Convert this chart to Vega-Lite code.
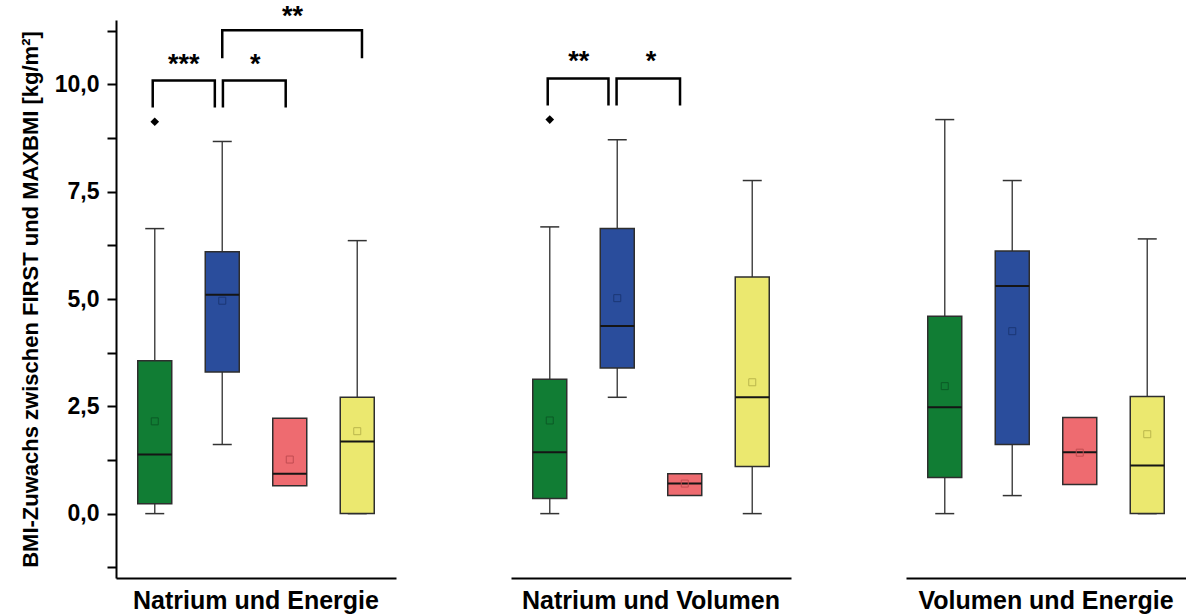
{
  "$schema": "https://vega.github.io/schema/vega-lite/v6.json",
  "background": "white",
  "padding": {"left": 19, "top": 2, "right": 0, "bottom": 0},
  "config": {
    "font": "Liberation Sans",
    "view": {"stroke": null},
    "axis": {"grid": false}
  },
  "data": {
    "values": [
      {"kind": "box", "panel": "Natrium und Energie", "group": "1", "pos": 1, "min": 0, "q1": 0.23, "median": 1.38, "q3": 3.56, "max": 6.64, "mean": 2.15},
      {"kind": "box", "panel": "Natrium und Energie", "group": "2", "pos": 2, "min": 1.61, "q1": 3.30, "median": 5.10, "q3": 6.10, "max": 8.67, "mean": 4.96},
      {"kind": "box", "panel": "Natrium und Energie", "group": "3", "pos": 3, "min": null, "q1": 0.65, "median": 0.93, "q3": 2.22, "max": null, "mean": 1.26},
      {"kind": "box", "panel": "Natrium und Energie", "group": "4", "pos": 4, "min": 0, "q1": 0, "median": 1.68, "q3": 2.71, "max": 6.36, "mean": 1.92},
      {"kind": "box", "panel": "Natrium und Volumen", "group": "1", "pos": 1, "min": 0, "q1": 0.35, "median": 1.43, "q3": 3.13, "max": 6.68, "mean": 2.17},
      {"kind": "box", "panel": "Natrium und Volumen", "group": "2", "pos": 2, "min": 2.71, "q1": 3.39, "median": 4.37, "q3": 6.64, "max": 8.71, "mean": 5.02},
      {"kind": "box", "panel": "Natrium und Volumen", "group": "3", "pos": 3, "min": null, "q1": 0.42, "median": 0.70, "q3": 0.93, "max": null, "mean": 0.70},
      {"kind": "box", "panel": "Natrium und Volumen", "group": "4", "pos": 4, "min": 0, "q1": 1.10, "median": 2.71, "q3": 5.51, "max": 7.76, "mean": 3.06},
      {"kind": "box", "panel": "Volumen und Energie", "group": "1", "pos": 1, "min": 0, "q1": 0.84, "median": 2.48, "q3": 4.60, "max": 9.18, "mean": 2.97},
      {"kind": "box", "panel": "Volumen und Energie", "group": "2", "pos": 2, "min": 0.42, "q1": 1.61, "median": 5.30, "q3": 6.12, "max": 7.76, "mean": 4.25},
      {"kind": "box", "panel": "Volumen und Energie", "group": "3", "pos": 3, "min": null, "q1": 0.68, "median": 1.43, "q3": 2.24, "max": null, "mean": 1.42},
      {"kind": "box", "panel": "Volumen und Energie", "group": "4", "pos": 4, "min": 0, "q1": 0, "median": 1.12, "q3": 2.73, "max": 6.40, "mean": 1.85},
      {"kind": "outlier", "panel": "Natrium und Energie", "pos": 1, "value": 9.13},
      {"kind": "outlier", "panel": "Natrium und Volumen", "pos": 1, "value": 9.18},
      {"kind": "bracket", "panel": "Natrium und Energie", "id": "a", "ord": 1, "bx": 0.97, "by": 9.46},
      {"kind": "bracket", "panel": "Natrium und Energie", "id": "a", "ord": 2, "bx": 0.97, "by": 10.09},
      {"kind": "bracket", "panel": "Natrium und Energie", "id": "a", "ord": 3, "bx": 1.89, "by": 10.09},
      {"kind": "bracket", "panel": "Natrium und Energie", "id": "a", "ord": 4, "bx": 1.89, "by": 9.46},
      {"kind": "bracket", "panel": "Natrium und Energie", "id": "b", "ord": 1, "bx": 2.01, "by": 9.46},
      {"kind": "bracket", "panel": "Natrium und Energie", "id": "b", "ord": 2, "bx": 2.01, "by": 10.09},
      {"kind": "bracket", "panel": "Natrium und Energie", "id": "b", "ord": 3, "bx": 2.94, "by": 10.09},
      {"kind": "bracket", "panel": "Natrium und Energie", "id": "b", "ord": 4, "bx": 2.94, "by": 9.46},
      {"kind": "bracket", "panel": "Natrium und Energie", "id": "c", "ord": 1, "bx": 2.0, "by": 10.61},
      {"kind": "bracket", "panel": "Natrium und Energie", "id": "c", "ord": 2, "bx": 2.0, "by": 11.26},
      {"kind": "bracket", "panel": "Natrium und Energie", "id": "c", "ord": 3, "bx": 4.07, "by": 11.26},
      {"kind": "bracket", "panel": "Natrium und Energie", "id": "c", "ord": 4, "bx": 4.07, "by": 10.61},
      {"kind": "bracket", "panel": "Natrium und Volumen", "id": "d", "ord": 1, "bx": 0.97, "by": 9.51},
      {"kind": "bracket", "panel": "Natrium und Volumen", "id": "d", "ord": 2, "bx": 0.97, "by": 10.14},
      {"kind": "bracket", "panel": "Natrium und Volumen", "id": "d", "ord": 3, "bx": 1.87, "by": 10.14},
      {"kind": "bracket", "panel": "Natrium und Volumen", "id": "d", "ord": 4, "bx": 1.87, "by": 9.51},
      {"kind": "bracket", "panel": "Natrium und Volumen", "id": "e", "ord": 1, "bx": 1.99, "by": 9.51},
      {"kind": "bracket", "panel": "Natrium und Volumen", "id": "e", "ord": 2, "bx": 1.99, "by": 10.14},
      {"kind": "bracket", "panel": "Natrium und Volumen", "id": "e", "ord": 3, "bx": 2.93, "by": 10.14},
      {"kind": "bracket", "panel": "Natrium und Volumen", "id": "e", "ord": 4, "bx": 2.93, "by": 9.51},
      {"kind": "star", "panel": "Natrium und Energie", "sx": 1.43, "sy": 10.58, "label": "***"},
      {"kind": "star", "panel": "Natrium und Energie", "sx": 2.49, "sy": 10.6, "label": "*"},
      {"kind": "star", "panel": "Natrium und Energie", "sx": 3.04, "sy": 11.72, "label": "**"},
      {"kind": "star", "panel": "Natrium und Volumen", "sx": 1.43, "sy": 10.65, "label": "**"},
      {"kind": "star", "panel": "Natrium und Volumen", "sx": 2.5, "sy": 10.65, "label": "*"}
    ]
  },
  "facet": {
    "column": {
      "field": "panel",
      "type": "nominal",
      "sort": ["Natrium und Energie", "Natrium und Volumen", "Volumen und Energie"],
      "header": {
        "title": null,
        "labelOrient": "bottom",
        "labelFontSize": 25,
        "labelFontWeight": "bold",
        "labelColor": "black",
        "labelFont": "Liberation Sans",
        "labelPadding": 11
      }
    }
  },
  "spacing": {"column": 115},
  "resolve": {"scale": {"x": "shared", "y": "shared"}},
  "spec": {
    "width": 280,
    "height": 558,
    "encoding": {
      "x": {
        "type": "quantitative",
        "scale": {"domain": [0.5, 4.5], "nice": false, "zero": false},
        "axis": {"title": null, "labels": false, "ticks": false, "domainColor": "black", "domainWidth": 2}
      }
    },
    "layer": [
      {
        "transform": [{"filter": "datum.kind === 'box'"}],
        "mark": {"type": "rule", "color": "#4a4a4a", "strokeWidth": 1.5},
        "encoding": {
          "x": {"field": "pos", "type": "quantitative"},
          "y": {
            "field": "min", "type": "quantitative",
            "scale": {"domain": [-1.5, 11.5], "nice": false, "zero": false},
            "axis": {
              "title": "BMI-Zuwachs zwischen FIRST und MAXBMI [kg/m²]",
              "titleFontSize": 22,
              "titleFontWeight": "bold",
              "titleColor": "black",
              "titlePadding": 12,
              "values": [-1.25, 0, 1.25, 2.5, 3.75, 5, 6.25, 7.5, 8.75, 10, 11.25],
              "labelExpr": "datum.value % 2.5 === 0 ? replace(format(datum.value, '.1f'), '.', ',') : ''",
              "labelFontSize": 23,
              "labelFontWeight": "bold",
              "labelColor": "black",
              "labelPadding": 8,
              "tickSize": 9,
              "tickWidth": 2,
              "tickColor": "black",
              "domainColor": "black",
              "domainWidth": 2
            }
          },
          "y2": {"field": "q1"}
        }
      },
      {
        "transform": [{"filter": "datum.kind === 'box'"}],
        "mark": {"type": "rule", "color": "#4a4a4a", "strokeWidth": 1.5},
        "encoding": {
          "x": {"field": "pos", "type": "quantitative"},
          "y": {"field": "q3", "type": "quantitative"},
          "y2": {"field": "max"}
        }
      },
      {
        "transform": [{"filter": "datum.kind === 'box'"}],
        "mark": {"type": "tick", "orient": "horizontal", "color": "#333333", "size": 19, "thickness": 1.5, "opacity": 1},
        "encoding": {
          "x": {"field": "pos", "type": "quantitative"},
          "y": {"field": "min", "type": "quantitative"}
        }
      },
      {
        "transform": [{"filter": "datum.kind === 'box'"}],
        "mark": {"type": "tick", "orient": "horizontal", "color": "#333333", "size": 19, "thickness": 1.5, "opacity": 1},
        "encoding": {
          "x": {"field": "pos", "type": "quantitative"},
          "y": {"field": "max", "type": "quantitative"}
        }
      },
      {
        "transform": [{"filter": "datum.kind === 'box'"}],
        "mark": {"type": "bar", "size": 34, "stroke": "#2e2e2e", "strokeWidth": 1.5, "opacity": 1},
        "encoding": {
          "x": {"field": "pos", "type": "quantitative"},
          "y": {"field": "q1", "type": "quantitative"},
          "y2": {"field": "q3"},
          "fill": {
            "field": "group", "type": "nominal", "legend": null,
            "scale": {"domain": ["1", "2", "3", "4"], "range": ["#117D34", "#2A4D9C", "#EE6B70", "#EBE86F"]}
          }
        }
      },
      {
        "transform": [{"filter": "datum.kind === 'box'"}],
        "mark": {"type": "tick", "orient": "horizontal", "color": "#151515", "size": 34, "thickness": 2, "opacity": 1},
        "encoding": {
          "x": {"field": "pos", "type": "quantitative"},
          "y": {"field": "median", "type": "quantitative"}
        }
      },
      {
        "transform": [{"filter": "datum.kind === 'box'"}],
        "mark": {"type": "point", "shape": "square", "size": 49, "filled": false, "strokeWidth": 1, "opacity": 1},
        "encoding": {
          "x": {"field": "pos", "type": "quantitative"},
          "y": {"field": "mean", "type": "quantitative"},
          "stroke": {
            "field": "group", "type": "nominal", "legend": null,
            "scale": {"domain": ["1", "2", "3", "4"], "range": ["#0b5a26", "#1b3775", "#c04c51", "#bab64c"]}
          }
        }
      },
      {
        "transform": [{"filter": "datum.kind === 'outlier'"}],
        "mark": {"type": "point", "shape": "diamond", "size": 75, "filled": true, "color": "black", "opacity": 1},
        "encoding": {
          "x": {"field": "pos", "type": "quantitative"},
          "y": {"field": "value", "type": "quantitative"}
        }
      },
      {
        "transform": [{"filter": "datum.kind === 'bracket'"}],
        "mark": {"type": "line", "color": "black", "strokeWidth": 2.5, "strokeJoin": "miter", "strokeCap": "butt"},
        "encoding": {
          "x": {"field": "bx", "type": "quantitative"},
          "y": {"field": "by", "type": "quantitative"},
          "detail": {"field": "id", "type": "nominal"},
          "order": {"field": "ord", "type": "quantitative"}
        }
      },
      {
        "transform": [{"filter": "datum.kind === 'star'"}],
        "mark": {"type": "text", "fontSize": 27, "fontWeight": "bold", "color": "black", "baseline": "middle", "align": "center", "dy": 6},
        "encoding": {
          "x": {"field": "sx", "type": "quantitative"},
          "y": {"field": "sy", "type": "quantitative"},
          "text": {"field": "label", "type": "nominal"}
        }
      }
    ]
  }
}
